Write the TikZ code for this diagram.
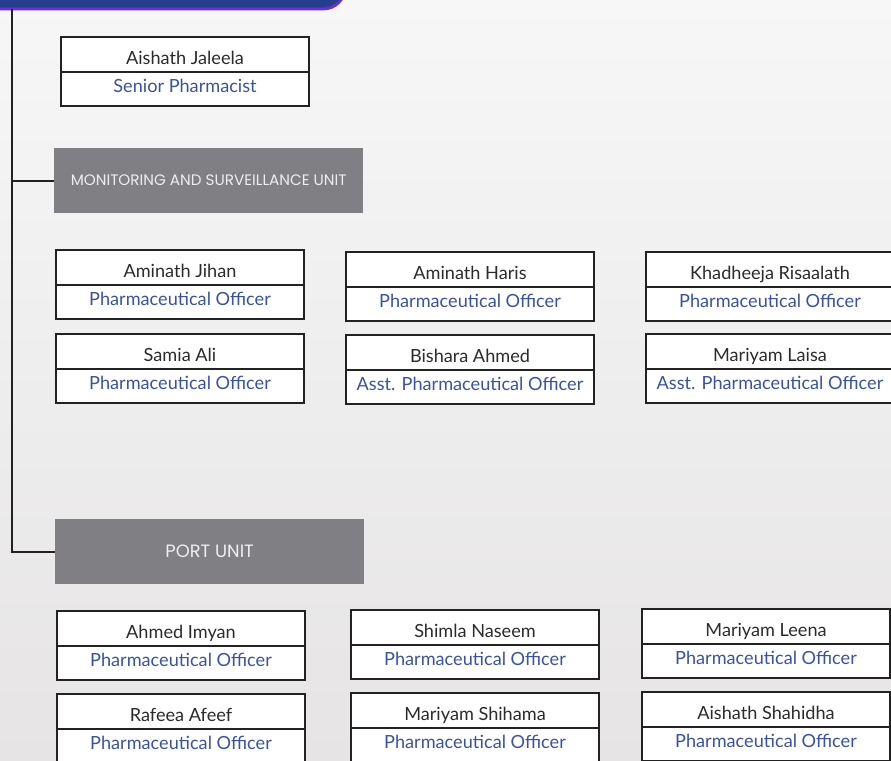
\documentclass[tikz,border=0pt]{standalone}
\usepackage{fontspec}
\setmainfont{Lato}
\newfontfamily\unitfont{Poppins}
\usetikzlibrary{positioning}

\definecolor{namegray}{HTML}{2B2B2B}
\definecolor{roleblue}{HTML}{3A52A2}
\definecolor{boxline}{HTML}{222222}
\definecolor{unitgray}{HTML}{808084}
\definecolor{unittext}{HTML}{EEEEEE}
\definecolor{barblue}{HTML}{263F8C}
\definecolor{barpurple}{HTML}{6B2DE3}
\definecolor{bgtop}{HTML}{F7F7F7}
\definecolor{bgbottom}{HTML}{E6E4E4}

\tikzset{
  namebox/.style={draw=boxline, fill=white, line width=1.6pt, outer sep=0pt,
    inner sep=0pt, minimum width=186pt, minimum height=26pt, text=namegray,
    text height=15.8pt, text depth=0pt,
    font=\fontsize{13.6}{15}\selectfont},
  rolebox/.style={namebox, text=roleblue, text height=8pt, text depth=2.8pt},
  unitbox/.style={fill=unitgray, inner sep=0pt, outer sep=0pt,
    minimum width=232pt, minimum height=49pt, text=unittext,
    font=\unitfont\fontsize{11.4}{13}\selectfont},
  trunk/.style={draw=boxline, line width=1.5pt},
  topbar/.style={draw=barpurple, fill=barblue, line width=2pt, rounded corners=16pt}
}

\begin{document}
\begin{tikzpicture}[x=0.75pt, y=-0.75pt]
  \useasboundingbox (0,0) rectangle (891,760);
  \shade[top color=bgtop, bottom color=bgbottom] (0,0) rectangle (891,760);

  % header bar and trunk
  \draw[topbar] (-40,-60) rectangle (345,9);
  \coordinate (top) at (12,9);

  % senior pharmacist
  \node[namebox, anchor=north west] (jaleela) at (61,37) {Aishath Jaleela};
  \node[rolebox, below=0pt of jaleela] (jaleelarole) {Senior Pharmacist};

  % monitoring and surveillance unit
  \node[unitbox, anchor=north west] (mon) at (54,148) {MONITORING AND SURVEILLANCE UNIT};

  \node[namebox, anchor=north west] (jihan) at (56,250) {Aminath Jihan};
  \node[rolebox, below=0pt of jihan] (jihanrole) {Pharmaceutical Officer};
  \node[namebox, anchor=north west] (haris) at (346,252) {Aminath Haris};
  \node[rolebox, below=0pt of haris] (harisrole) {Pharmaceutical Officer};
  \node[namebox, anchor=north west] (risaalath) at (646,252) {Khadheeja Risaalath};
  \node[rolebox, below=0pt of risaalath] (risaalathrole) {Pharmaceutical Officer};

  \node[namebox, anchor=north west] (samia) at (56,334) {Samia Ali};
  \node[rolebox, below=0pt of samia] (samiarole) {Pharmaceutical Officer};
  \node[namebox, anchor=north west] (bishara) at (346,335) {Bishara Ahmed};
  \node[rolebox, below=0pt of bishara] (bishararole) {Asst. Pharmaceutical Officer};
  \node[namebox, anchor=north west] (laisa) at (646,334) {Mariyam Laisa};
  \node[rolebox, below=0pt of laisa] (laisarole) {Asst. Pharmaceutical Officer};

  % port unit
  \node[unitbox, anchor=north west, font=\unitfont\fontsize{13.4}{15}\selectfont] (port) at (55,519) {PORT UNIT};

  \node[namebox, anchor=north west] (imyan) at (57,611) {Ahmed Imyan};
  \node[rolebox, below=0pt of imyan] (imyanrole) {Pharmaceutical Officer};
  \node[namebox, anchor=north west] (shimla) at (351,610) {Shimla Naseem};
  \node[rolebox, below=0pt of shimla] (shimlarole) {Pharmaceutical Officer};
  \node[namebox, anchor=north west] (leena) at (642,609) {Mariyam Leena};
  \node[rolebox, below=0pt of leena] (leenarole) {Pharmaceutical Officer};

  \node[namebox, anchor=north west] (rafeea) at (57,694) {Rafeea Afeef};
  \node[rolebox, below=0pt of rafeea] (rafeearole) {Pharmaceutical Officer};
  \node[namebox, anchor=north west] (shihama) at (351,693) {Mariyam Shihama};
  \node[rolebox, below=0pt of shihama] (shihamarole) {Pharmaceutical Officer};
  \node[namebox, anchor=north west] (shahidha) at (642,692) {Aishath Shahidha};
  \node[rolebox, below=0pt of shahidha] (shahidharole) {Pharmaceutical Officer};

  % connectors
  \draw[trunk] (top) |- (port.west);
  \draw[trunk] (top |- mon.west) -- (mon.west);
\end{tikzpicture}
\end{document}
